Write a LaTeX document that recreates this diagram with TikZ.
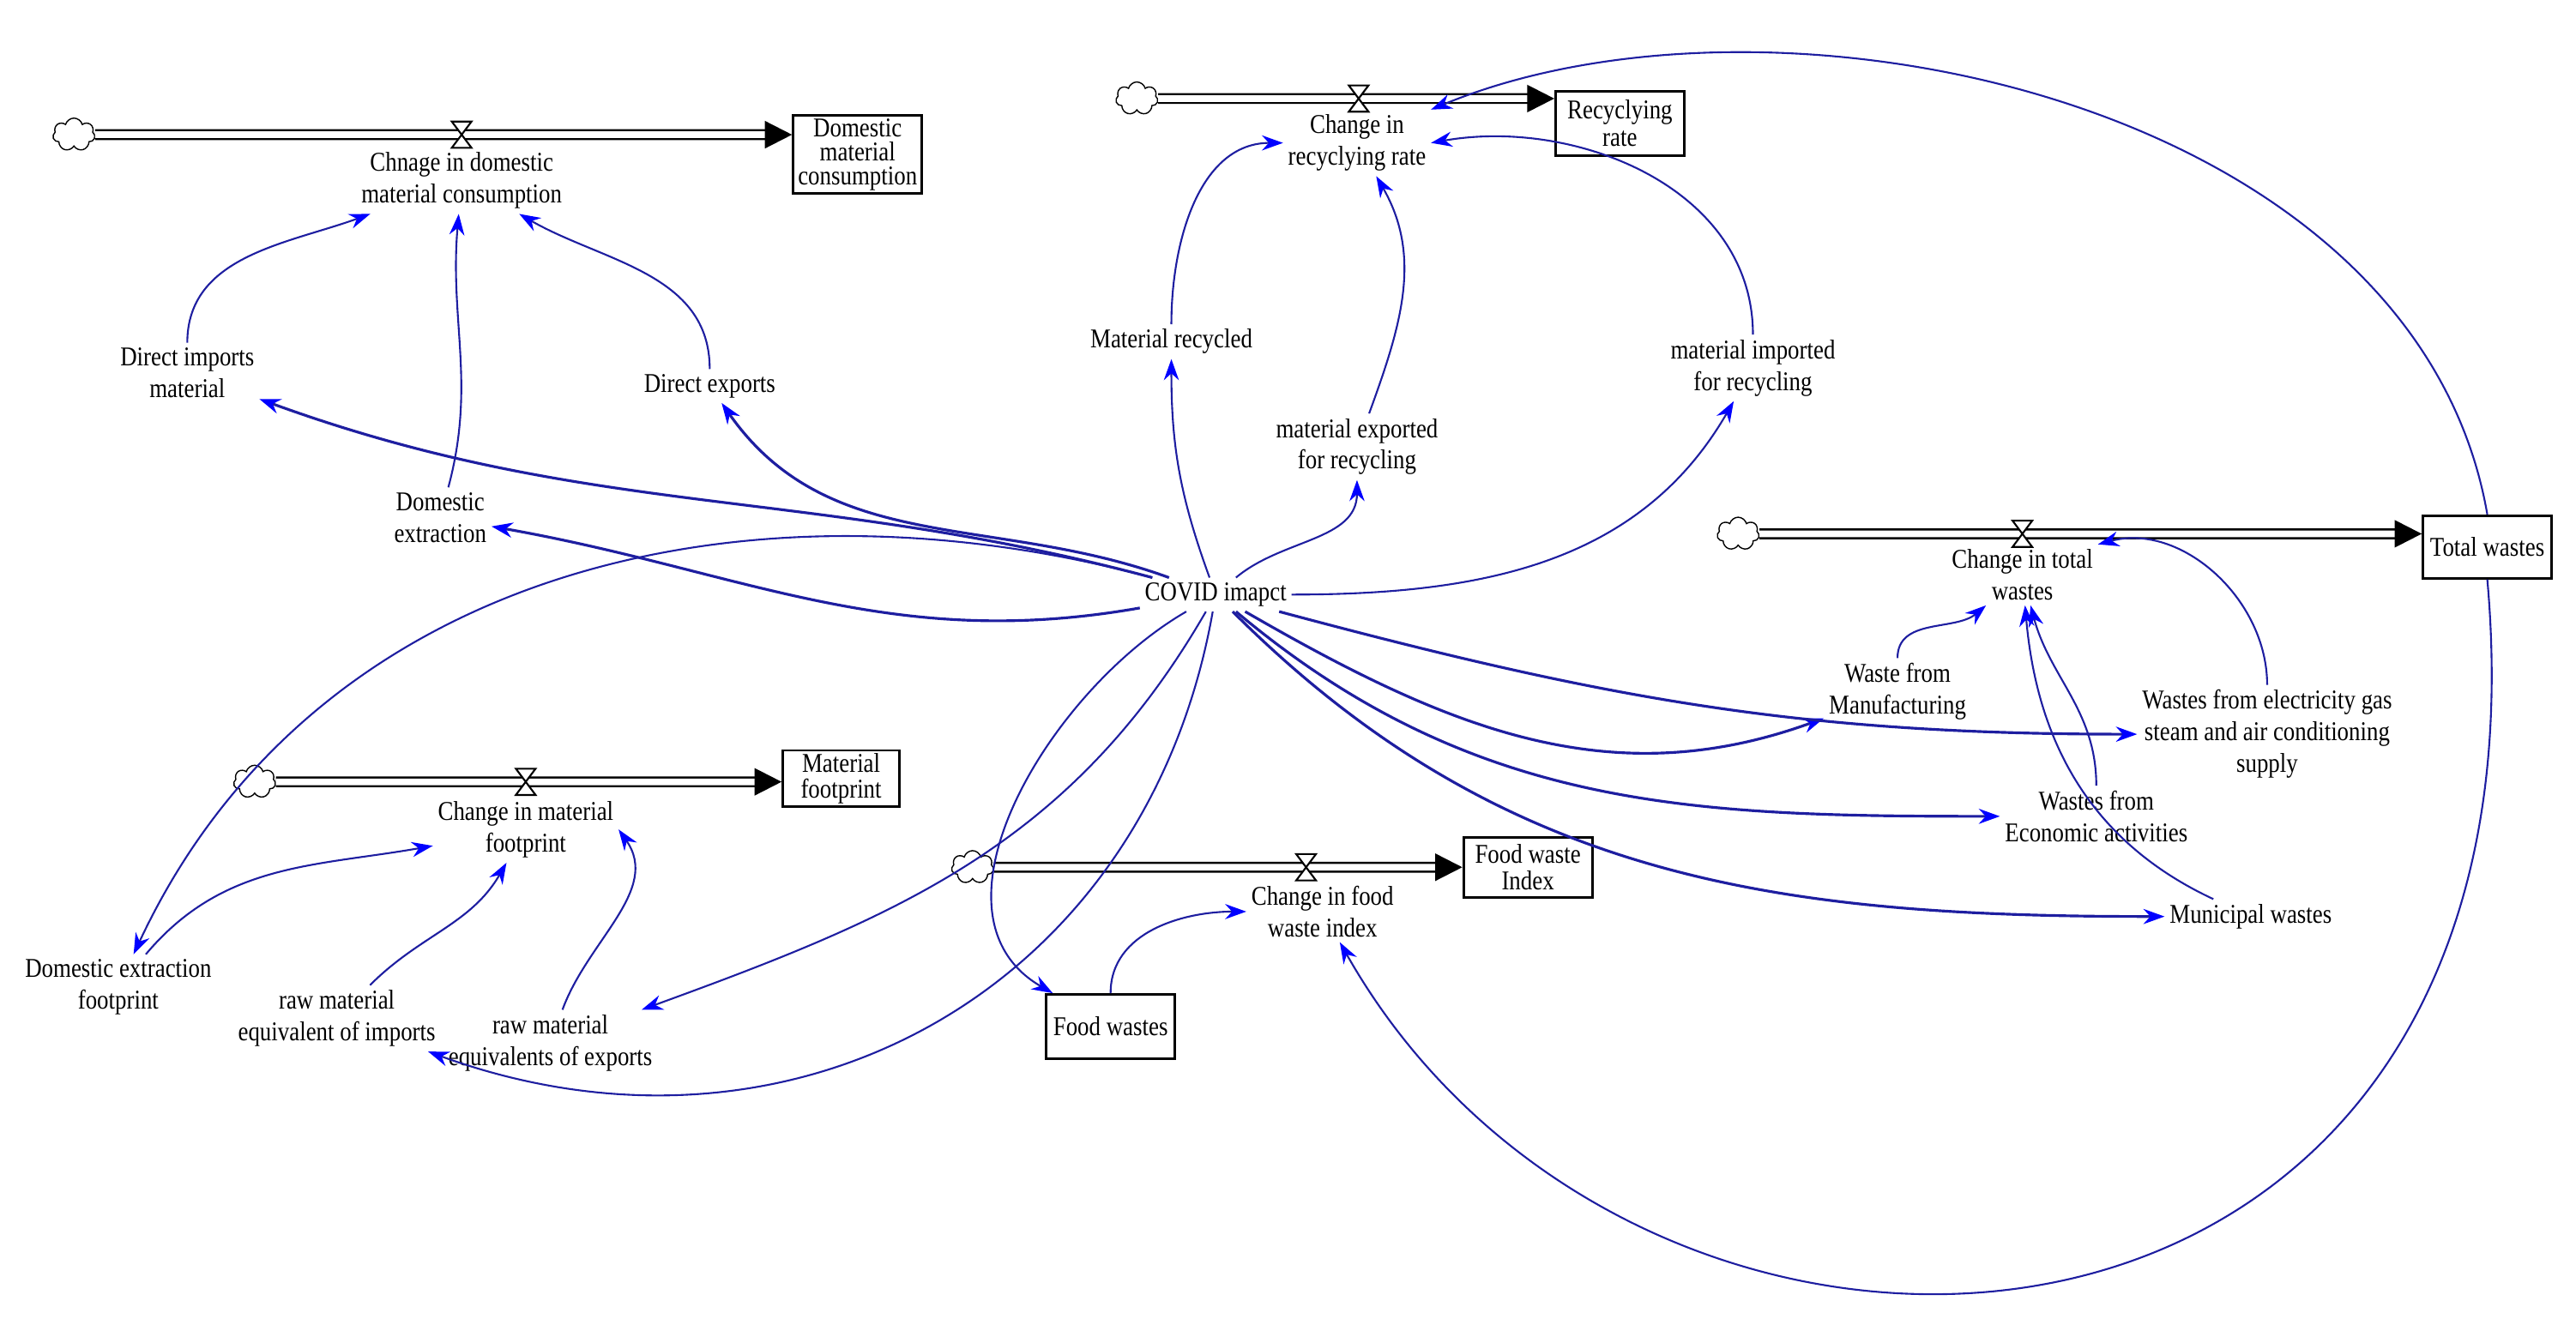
\documentclass[tikz,border=0pt]{standalone}
\usepackage{fontspec}
\setmainfont{Liberation Serif}[FakeStretch=0.85]
\usetikzlibrary{arrows.meta,shapes.symbols}
\definecolor{lk}{RGB}{30,30,160}
\definecolor{hd}{RGB}{0,0,255}
\begin{document}
\begin{tikzpicture}[x=0.01915cm,y=0.01915cm,
  font=\fontsize{9}{10.5}\selectfont,
  v/.style={align=center,inner sep=1.5pt},
  stock/.style={draw,thick,align=center,inner sep=1pt,minimum height=0.7cm,minimum width=1.5cm,font=\fontsize{9}{9}\selectfont},
  cl/.style={cloud,draw,cloud puffs=7,minimum width=14,minimum height=11,inner sep=0pt},
  pipe/.style={double=white,double distance=2.2pt,line width=0.7pt,-{Triangle[length=9pt,width=9pt,fill=black]}},
  c/.style={draw=lk,line width=0.6pt,-{Stealth[length=7pt,width=5pt,fill=hd,color=hd]}},
  ct/.style={c,line width=0.9pt},
  valve/.pic={\draw[fill=white,line width=0.6pt] (-6,8)--(6,8)--(-6,-8)--(6,-8)--cycle;}]
\useasboundingbox (0,0) rectangle (1568,-810);
% clouds
\node[cl] (c1) at (45,-82) {};
\node[cl] (c2) at (155,-476) {};
\node[cl] (c3) at (592,-528) {};
\node[cl] (c4) at (692,-60) {};
\node[cl] (c5) at (1058,-325) {};
% stocks
\node[stock,minimum height=0.75cm,font=\fontsize{9}{8}\selectfont] (dmc) at (522,-94) {Domestic\\material\\consumption};
\node[stock,minimum width=1.36cm,minimum height=0.56cm,font=\fontsize{9}{8.5}\selectfont] (mf) at (512,-474) {Material\\footprint};
\node[stock] (fwi) at (930,-528) {Food waste\\Index};
\node[stock,minimum height=0.75cm] (rr) at (986,-75) {Recyclying\\rate};
\node[stock,minimum height=0.73cm] (tw) at (1514,-333) {Total wastes};
\node[stock,minimum height=0.75cm] (fw) at (676,-625) {Food wastes};
% pipes
\draw[pipe] (c1) -- (c1 -| dmc.west);
\draw[pipe] (c2) -- (c2 -| mf.west);
\draw[pipe] (c3) -- (c3 -| fwi.west);
\draw[pipe] (c4) -- (c4 -| rr.west);
\draw[pipe] (c5) -- (c5 -| tw.west);
\pic at (281,-82) {valve};
\pic at (320,-476) {valve};
\pic at (795,-528) {valve};
\pic at (827,-60) {valve};
\pic at (1231,-325) {valve};
% flow labels
\node[v] (cdmc) at (281,-110) {Chnage in domestic\\material consumption};
\node[v] (cmf) at (320,-505) {Change in material\\footprint};
\node[v] (cfwi) at (805,-555) {Change in food\\waste index};
\node[v] (crr) at (826,-87) {Change in\\recyclying rate};
\node[v] (ctw) at (1231,-350) {Change in total\\wastes};
% variables
\node[v] (dim) at (114,-227) {Direct imports\\material};
\node[v] (dex) at (432,-235) {Direct exports};
\node[v] (dext) at (268,-315) {Domestic\\extraction};
\node[v] (mrec) at (713,-208) {Material recycled};
\node[v] (mexp) at (826,-272) {material exported\\for recycling};
\node[v] (mimp) at (1067,-224) {material imported\\for recycling};
\node[v] (covid) at (740,-362) {COVID imapct};
\node[v] (wfm) at (1155,-421) {Waste from\\Manufacturing};
\node[v] (wel) at (1380,-447) {Wastes from electricity gas\\steam and air conditioning\\supply};
\node[v] (wec) at (1276,-497) {Wastes from\\Economic activities};
\node[v] (mun) at (1370,-558) {Municipal wastes};
\node[v] (def) at (72,-601) {Domestic extraction\\footprint};
\node[v] (rmi) at (205,-620) {raw material\\equivalent of imports};
\node[v] (rme) at (335,-635) {raw material\\equivalents of exports};
% connectors
\draw[c] (dim) to[out=90,in=200] (cdmc);
\draw[c] (dext) to[out=75,in=-95] (cdmc);
\draw[c] (dex) to[out=90,in=-30] (cdmc);
\draw[ct] (covid) to[out=165,in=-20] (dim);
\draw[ct] (covid) to[out=160,in=-55] (dex);
\draw[ct] (covid) to[out=190,in=-10] (dext);
\draw[c] (covid) to[out=165,in=65] (def);
\draw[c] (def) to[out=50,in=190] (cmf);
\draw[c] (rmi) to[out=45,in=240] (cmf);
\draw[c] (rme) to[out=70,in=-55] (cmf.east);
\draw[c] (covid) to[out=-120,in=20] (rme);
\draw[c] (covid) to[out=-100,in=-20,looseness=1.1] (rmi);
\draw[c] (covid) to[out=-150,in=150] (fw);
\draw[c] (fw) to[out=90,in=180] (cfwi);
\draw[c] (tw.south) .. controls (1560,-870) and (1000,-900) .. (cfwi);
\draw[c] (tw.north) .. controls (1470,-60) and (1080,20) .. (crr.north east);
\draw[c] (covid) to[out=110,in=-90] (mrec);
\draw[c] (mrec) to[out=90,in=180] (crr);
\draw[c] (covid) to[out=40,in=-90] (mexp);
\draw[c] (mexp) to[out=70,in=-60] (crr);
\draw[c] (covid) to[out=0,in=-120] (mimp);
\draw[c] (mimp) to[out=90,in=10] (crr.east);
\draw[ct] (covid) to[out=-30,in=200] (wfm);
\draw[ct] (covid) to[out=-15,in=180] (wel);
\draw[ct] (covid) to[out=-40,in=180] (wec);
\draw[ct] (covid) to[out=-45,in=180] (mun);
\draw[c] (wfm) to[out=90,in=220] (ctw);
\draw[c] (mun) to[out=155,in=-85] (ctw);
\draw[c] (wec) to[out=90,in=-75] (ctw);
\draw[c] (wel) to[out=90,in=15] (ctw.north east);
\end{tikzpicture}
\end{document}
